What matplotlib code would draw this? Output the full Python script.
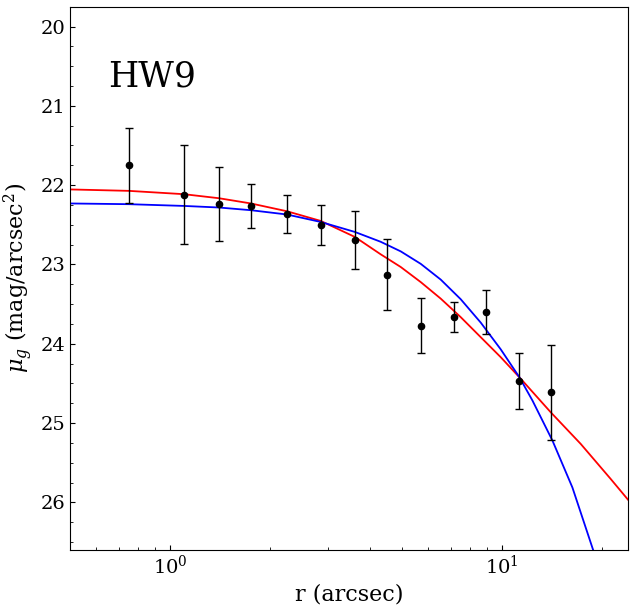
import matplotlib
matplotlib.use('Agg')
import matplotlib.pyplot as plt
from matplotlib.ticker import AutoMinorLocator

plt.rcParams['font.family'] = 'DejaVu Serif'
plt.rcParams['mathtext.fontset'] = 'dejavuserif'

# measured profile of HW9 (g band)
r = [0.752, 1.102, 1.405, 1.754, 2.25, 2.844, 3.605, 4.505, 5.70, 7.17, 8.95, 11.28, 14.05]
mu = [21.75, 22.12, 22.24, 22.26, 22.36, 22.50, 22.69, 23.13, 23.77, 23.66, 23.60, 24.47, 24.61]
mu_err = [0.47, 0.62, 0.47, 0.28, 0.24, 0.25, 0.37, 0.45, 0.35, 0.19, 0.28, 0.35, 0.60]

# fitted model curves
r_red = [0.5, 0.752, 1.102, 1.405, 1.754, 2.25, 2.844, 3.605, 4.311, 4.954, 5.69, 6.538,
         7.508, 8.627, 9.91, 11.38, 14.02, 17.26, 21.26, 24.0]
mu_red = [22.054, 22.072, 22.114, 22.165, 22.231, 22.329, 22.451, 22.653, 22.872, 23.032,
          23.222, 23.431, 23.664, 23.917, 24.169, 24.44, 24.864, 25.263, 25.706, 25.97]

r_blue = [0.5, 0.752, 1.102, 1.405, 1.754, 2.25, 2.844, 3.605, 4.311, 4.954, 5.69, 6.538,
          7.508, 8.627, 9.91, 11.28, 12.35, 14.19, 16.29, 18.85]
mu_blue = [22.231, 22.240, 22.262, 22.282, 22.316, 22.370, 22.464, 22.590, 22.714, 22.835,
           22.992, 23.191, 23.438, 23.733, 24.070, 24.422, 24.716, 25.222, 25.812, 26.612]

fig = plt.figure(figsize=(6.34, 6.08), dpi=100)
ax = fig.add_axes([0.1104, 0.0954, 0.8806, 0.8936])

ax.plot(r_red, mu_red, color='red', lw=1.3)
ax.plot(r_blue, mu_blue, color='blue', lw=1.3)
ax.errorbar(r, mu, yerr=mu_err, fmt='o', color='black', ms=4.5, elinewidth=1,
            capsize=3, capthick=1)

ax.set_xscale('log')
ax.set_xlim(0.5, 24)
ax.set_ylim(26.6, 19.75)
ax.yaxis.set_minor_locator(AutoMinorLocator(4))
ax.tick_params(which='both', direction='in', labelsize=14)

ax.set_xlabel('r (arcsec)', fontsize=16)
ax.set_ylabel(r'$\mu_g$ (mag/arcsec$^2$)', fontsize=16)
ax.text(0.068, 0.853, 'HW9', transform=ax.transAxes, fontsize=25)

fig.savefig('out.png', dpi=100)
